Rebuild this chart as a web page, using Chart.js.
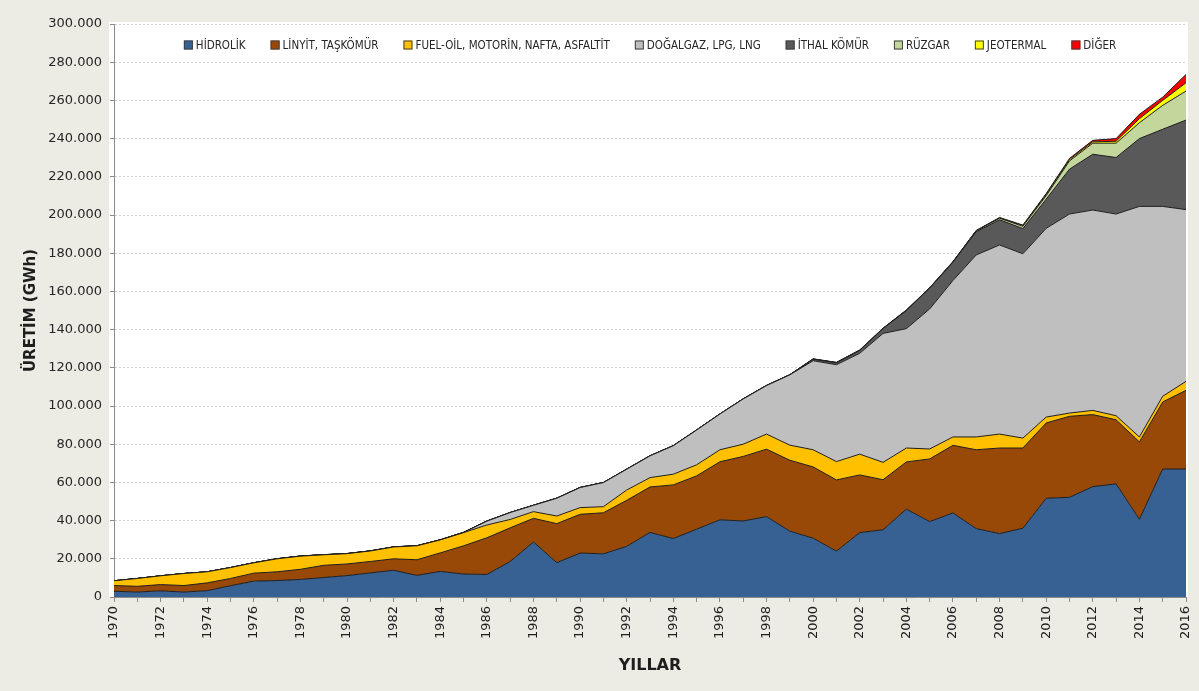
<!DOCTYPE html>
<html>
<head>
<meta charset="utf-8">
<script src="https://cdn.jsdelivr.net/npm/chart.js@4.4.1/dist/chart.umd.min.js"></script>
<style>
  html, body { margin: 0; padding: 0; background: #ECEBE4; }
  canvas { display: block; }
</style>
</head>
<body>
<canvas id="chart" width="1199" height="691"></canvas>
<script>
// years on the x axis
const years = [1970,1971,1972,1973,1974,1975,1976,1977,1978,1979,
  1980,1981,1982,1983,1984,1985,1986,1987,1988,1989,
  1990,1991,1992,1993,1994,1995,1996,1997,1998,1999,
  2000,2001,2002,2003,2004,2005,2006,2007,2008,2009,
  2010,2011,2012,2013,2014,2015,2016];

// generation by source, GWh
const hidrolik = [3000,2600,3200,2600,3300,5900,8300,8600,9200,10200,
  11200,12600,14000,11300,13400,12000,11800,18600,28800,18000,
  23000,22600,26500,33800,30600,35500,40400,39800,42100,34500,
  30800,24000,33700,35200,46000,39500,44000,35800,33200,36000,
  51700,52200,57800,59200,40700,67000,67000];
const linyit = [3000,3000,3300,3400,4100,3800,4200,4600,5300,6400,
  6100,6000,6000,8200,9700,14800,19200,17600,12400,20400,
  20300,21500,24100,23800,28100,27900,30400,33800,35300,37100,
  37300,37300,30200,26200,24700,32800,35400,41300,44800,42000,
  39400,42400,37700,33600,40500,35100,41200];
const fuelOil = [2500,4100,4600,6300,5800,5700,5400,6800,6900,5500,
  5400,5500,6200,7300,6800,6900,6700,4400,3500,4000,
  3500,3200,5400,4900,5600,5800,6300,6400,7900,7900,
  9000,9600,10900,9100,7300,5200,4400,6700,7300,5200,
  3100,1700,2200,2100,2600,3000,4700];
const dogalgaz = [0,0,0,0,0,0,0,0,0,0,
  0,0,0,0,0,100,2000,3600,3300,9300,
  10500,12600,10900,11400,14900,18200,18700,23700,25400,36800,
  46600,50700,52800,67500,62500,73300,81900,95300,99000,96500,
  98800,104200,104900,105600,120700,99400,89900];
const ithalKomur = [0,0,0,0,0,0,0,0,0,0,
  0,0,0,0,0,0,0,0,0,0,
  0,0,0,0,0,0,0,0,0,0,
  800,1000,1500,2500,9500,10900,9600,12200,13200,13200,
  15300,23500,29200,29600,35500,40400,46900];
const ruzgar = [0,0,0,0,0,0,0,0,0,0,
  0,0,0,0,0,0,0,0,0,0,
  0,0,0,0,0,0,0,0,10,20,
  30,60,50,60,60,60,100,400,800,1200,
  1800,4300,5800,7500,8300,12500,15200];
const jeotermal = [0,0,0,0,0,60,70,70,80,80,
  80,80,80,80,80,80,80,80,70,80,
  80,80,70,80,80,90,80,80,90,80,
  80,90,100,90,90,90,90,150,200,400,
  600,700,700,1000,2100,2600,4300];
const diger = [0,0,0,0,0,0,0,0,0,0,
  0,0,0,0,0,0,0,0,0,0,
  0,0,0,0,0,0,0,0,0,0,
  100,100,100,100,100,100,100,100,200,200,
  500,600,800,1400,2300,1700,4400];

const seriesNames = ["HİDROLİK", "LİNYİT, TAŞKÖMÜR", "FUEL-OİL, MOTORİN, NAFTA, ASFALTİT",
  "DOĞALGAZ, LPG, LNG", "İTHAL KÖMÜR", "RÜZGAR", "JEOTERMAL", "DİĞER"];
const seriesData = [hidrolik, linyit, fuelOil, dogalgaz, ithalKomur, ruzgar, jeotermal, diger];
const seriesColors = ["#376193", "#984807", "#FFC000", "#BFBFBF", "#595959", "#C3D69B", "#FFFF00", "#FF0000"];

const fmt = v => v.toString().replace(/\B(?=(\d{3})+(?!\d))/g, ".");

// white plot background
const plotBg = {
  id: 'plotBg',
  beforeDraw(chart) {
    const {ctx, chartArea: a} = chart;
    ctx.save();
    ctx.fillStyle = '#ffffff';
    ctx.fillRect(a.left - 5, a.top - 2, a.right - a.left + 7, a.bottom - a.top + 2);
    ctx.restore();
  }
};

// legend drawn inside the plot area, like the original
const innerLegend = {
  id: 'innerLegend',
  afterDraw(chart) {
    const {ctx, chartArea: a} = chart;
    const box = 9, gapText = 3, gapItem = 25;
    ctx.save();
    ctx.font = '11.5px "Liberation Sans Narrow", "DejaVu Sans Condensed", "Liberation Sans", sans-serif';
    ctx.textBaseline = 'middle';
    const ds = chart.data.datasets;
    const widths = ds.map(d => box + gapText + ctx.measureText(d.label).width);
    const total = widths.reduce((s, w) => s + w, 0) + gapItem * (ds.length - 1);
    let x = (a.left + a.right) / 2 - total / 2;
    const y = 45;
    ds.forEach((d, i) => {
      ctx.fillStyle = d.backgroundColor;
      ctx.fillRect(x, y - box / 2, box, box);
      ctx.strokeStyle = '#404040';
      ctx.lineWidth = 1;
      ctx.strokeRect(x + 0.5, y - box / 2 + 0.5, box - 1, box - 1);
      ctx.fillStyle = '#262626';
      ctx.fillText(d.label, x + box + gapText, y + 1);
      x += widths[i] + gapItem;
    });
    ctx.restore();
  }
};

new Chart(document.getElementById('chart'), {
  type: 'line',
  data: {
    labels: years,
    datasets: seriesNames.map((name, i) => ({
      label: name,
      data: seriesData[i],
      backgroundColor: seriesColors[i],
      borderColor: '#1e1e1e',
      borderWidth: 1,
      pointRadius: 0,
      tension: 0,
      fill: i === 0 ? 'origin' : '-1',
    })),
  },
  options: {
    responsive: false,
    animation: false,
    devicePixelRatio: 1,
    layout: { padding: { left: 10, top: 24, right: 13, bottom: 16 } },
    plugins: {
      legend: { display: false },
      tooltip: { enabled: false },
    },
    scales: {
      x: {
        type: 'category',
        afterFit(scale) {
          scale.height = 78;
          scale.paddingLeft = 0;
          scale.paddingRight = 0;
        },
        grid: { drawOnChartArea: false, drawTicks: true, tickLength: 5, tickColor: '#8c8c8c' },
        border: { display: true, color: '#8c8c8c' },
        ticks: {
          autoSkip: false, maxRotation: 90, minRotation: 90, padding: 4,
          color: '#1e1e1e',
          font: { family: 'DejaVu Sans', size: 13 },
          callback: (v, i) => (i % 2 === 0 ? years[i] : ''),
        },
        title: {
          display: true, text: 'YILLAR', color: '#1e1e1e',
          font: { family: 'DejaVu Sans', size: 16, weight: 'bold' },
          padding: { top: 0, bottom: 0 },
        },
      },
      y: {
        stacked: true,
        min: 0, max: 300000,
        afterFit(scale) { scale.width = 104; },
        grid: { color: '#d2d2d2', lineWidth: 1, drawTicks: true, tickLength: 4, tickColor: '#8c8c8c' },
        border: { display: true, color: '#8c8c8c', dash: [2, 2] },
        ticks: {
          stepSize: 20000, padding: 8, color: '#262626',
          font: { family: 'DejaVu Sans', size: 13 },
          callback: v => fmt(v),
        },
        title: {
          display: true, text: 'ÜRETİM (GWh)', color: '#1e1e1e',
          font: { family: 'DejaVu Sans', size: 15, weight: 'bold' },
          padding: { top: 12, bottom: 0 },
        },
      },
    },
  },
  plugins: [plotBg, innerLegend],
});
</script>
</body>
</html>
